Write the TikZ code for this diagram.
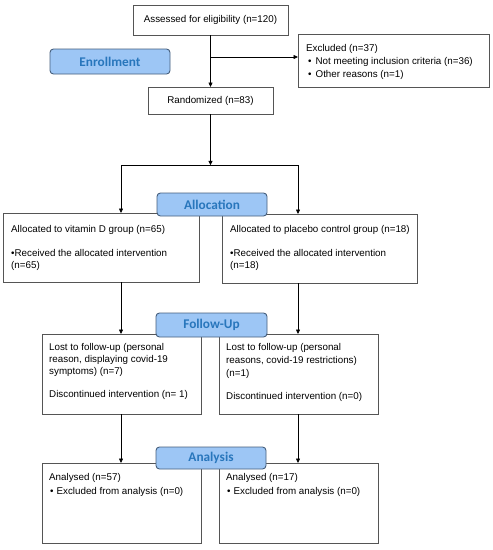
\documentclass[tikz,border=0pt]{standalone}
\usepackage{fontspec}
\setmainfont{Liberation Sans}
\newfontfamily\lblfont{Carlito}
\usetikzlibrary{arrows.meta}
\definecolor{lblfill}{RGB}{157,198,245}
\definecolor{lbldraw}{RGB}{70,95,125}
\definecolor{lbltext}{RGB}{40,118,188}
\definecolor{boxdraw}{RGB}{85,85,85}
\begin{document}
\begin{tikzpicture}[x=1pt,y=-1pt,
 box/.style={draw=boxdraw, line width=0.9pt, inner sep=0pt, outer sep=0pt, anchor=north west, fill=white, font=\fontsize{9.8}{12}\selectfont},
 txt/.style={inner sep=0pt, anchor=north west, align=left, font=\fontsize{9.8}{12}\selectfont},
 stage/.style={draw=lbldraw, fill=lblfill, line width=0.9pt, rounded corners=3.5pt, inner sep=0pt, outer sep=0pt, anchor=north west, text=lbltext, font=\lblfont\bfseries\fontsize{13.3}{15}\selectfont},
 arr/.style={-{Triangle[length=4.5pt,width=4pt]}, line width=0.7pt},
 ln/.style={line width=0.7pt}]
\useasboundingbox (0,0) rectangle (493,550);
\fill[white] (0,0) rectangle (493,550);

% boxes
\node[box, minimum width=155pt, minimum height=30pt] (assess) at (133,5) {Assessed for eligibility (n=120)};
\node[box, minimum width=191pt, minimum height=53pt] (excl) at (298,34) {};
\node[box, minimum width=125pt, minimum height=27pt] (random) at (148,87) {Randomized (n=83)};
\node[box, minimum width=196pt, minimum height=69pt] (allocL) at (3,213) {};
\node[box, minimum width=195pt, minimum height=69pt] (allocR) at (222,214) {};
\node[box, minimum width=159pt, minimum height=80pt] (fuL) at (42,334) {};
\node[box, minimum width=159pt, minimum height=80pt] (fuR) at (219,334) {};
\node[box, minimum width=159pt, minimum height=80pt] (anL) at (42,463) {};
\node[box, minimum width=159pt, minimum height=80pt] (anR) at (219,463) {};

% texts
\node[txt, font=\fontsize{9.8}{13}\selectfont] (exclt) at (306,44.5) {Excluded (n=37)\\
\hspace{2pt}\textbullet\hspace{4pt}Not meeting inclusion criteria (n=36)\\
\hspace{2pt}\textbullet\hspace{4pt}Other reasons (n=1)};
\node[txt] (allocLt) at (11,225.5) {Allocated to vitamin D group (n=65)\\[12pt]
\textbullet Received the allocated intervention\\
(n=65)};
\node[txt] (allocRt) at (230,225.5) {Allocated to placebo control group (n=18)\\[12pt]
\textbullet Received the allocated intervention\\
(n=18)};
\node[txt, font=\fontsize{9.8}{11.7}\selectfont] (fuLt) at (49,343.5) {Lost to follow-up (personal\\
reason, displaying covid-19\\
symptoms) (n=7)\\[11.5pt]
Discontinued intervention (n= 1)};
\node[txt, font=\fontsize{9.8}{13}\selectfont] (fuRt) at (226,343.5) {Lost to follow-up (personal\\
reasons, covid-19 restrictions)\\
(n=1)\\[10pt]
Discontinued intervention (n=0)};
\node[txt, font=\fontsize{9.8}{14}\selectfont] (anLt) at (49,473.5) {Analysed (n=57)\\
\hspace{1pt}\textbullet\hspace{3pt}Excluded from analysis (n=0)};
\node[txt, font=\fontsize{9.8}{14}\selectfont] (anRt) at (226,473.5) {Analysed (n=17)\\
\hspace{1pt}\textbullet\hspace{3pt}Excluded from analysis (n=0)};

% connectors
\coordinate (j1) at (assess.south |- 0,57);
\draw[arr] (assess.south) -- (random.north);
\draw[arr] (j1) -- (j1 -| excl.west);
\coordinate (split) at (random.south |- 0,165);
\coordinate (sl) at (121,165);
\coordinate (sr) at (298,165);
\draw[arr] (random.south) -- ([yshift=-0.3pt]split);
\draw[ln] (sl) -- (sr);
\draw[arr] (sl) -- (sl |- allocL.north);
\draw[arr] (sr) -- (sr |- allocR.north);
\draw[arr] (sl |- allocL.south) -- (sl |- fuL.north);
\draw[arr] (sr |- allocR.south) -- (sr |- fuR.north);
\draw[arr] (sl |- fuL.south) -- (sl |- anL.north);
\draw[arr] (sr |- fuR.south) -- (sr |- anR.north);

% stage labels
\node[stage, minimum width=120pt, minimum height=25pt] (enroll) at (50,49) {Enrollment};
\node[stage, minimum width=110pt, minimum height=23pt] (allocation) at (157,193) {Allocation};
\node[stage, minimum width=111pt, minimum height=24pt] (followup) at (156,313) {Follow-Up};
\node[stage, minimum width=110pt, minimum height=22pt] (analysis) at (156,447) {Analysis};
\end{tikzpicture}
\end{document}
